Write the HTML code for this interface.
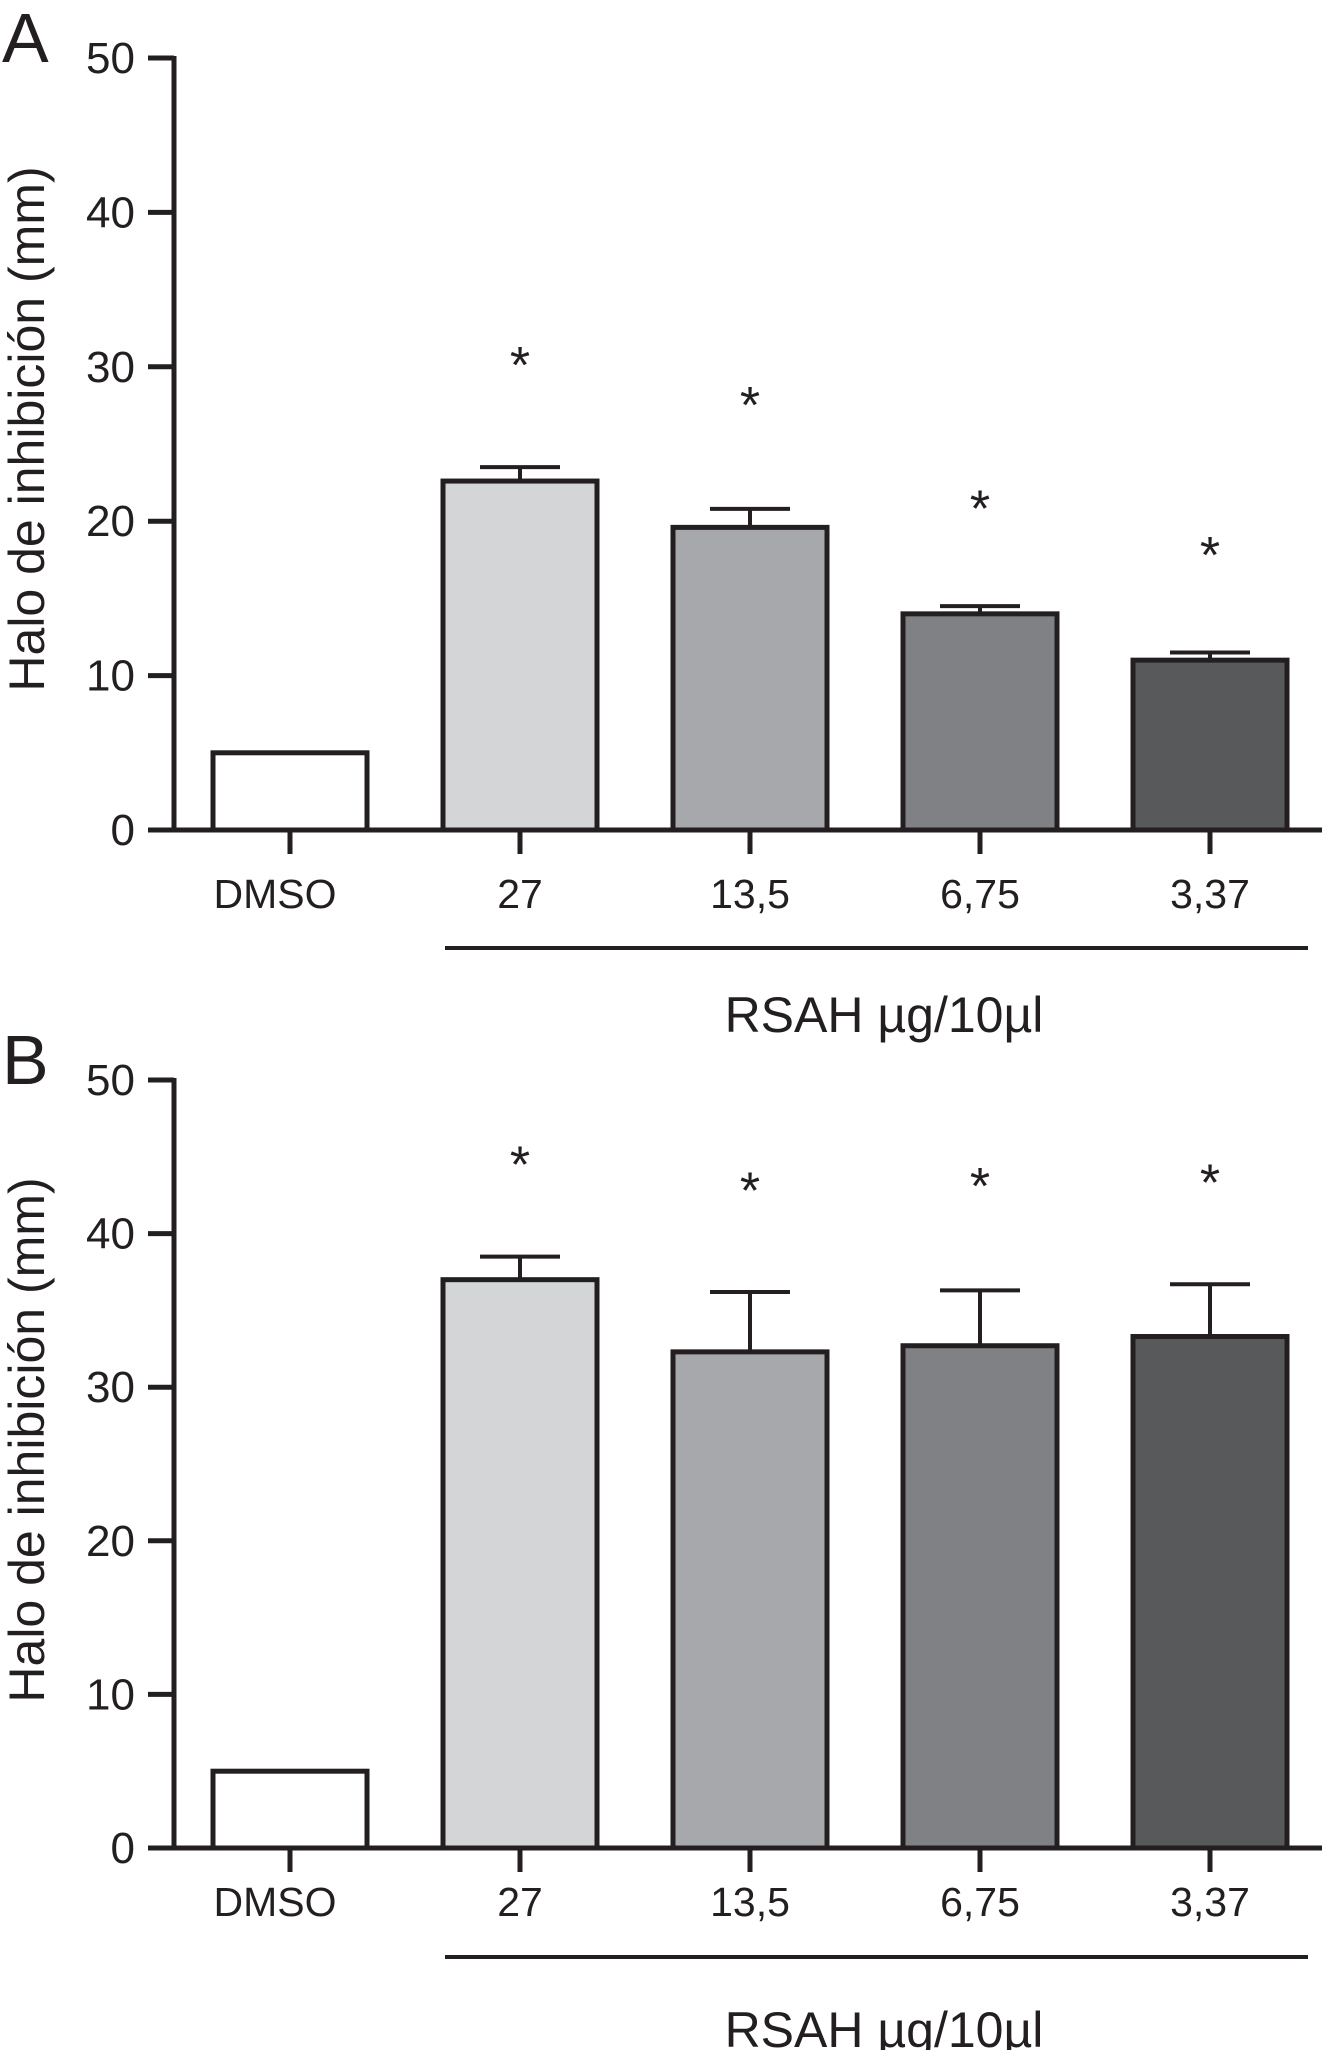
<!DOCTYPE html>
<html><head><meta charset="utf-8"><style>
html,body{margin:0;padding:0;background:#fff;}
svg{display:block;font-family:"Liberation Sans",sans-serif;}
</style></head><body>
<svg id="chart" width="1331" height="2050" viewBox="0 0 1331 2050" xmlns="http://www.w3.org/2000/svg"></svg>
<script>
const categories = ["DMSO","27","13,5","6,75","3,37"];
const valuesA = [5, 22.6, 19.6, 14, 11];
const errorsA = [0, 0.9, 1.2, 0.5, 0.5];
const starsA = [null, 30.7, 28.1, 21.4, 18.4];
const valuesB = [5, 37, 32.3, 32.7, 33.3];
const errorsB = [0, 1.5, 3.9, 3.6, 3.4];
const starsB = [null, 45.1, 43.4, 43.7, 43.9];
const yTicks = [0,10,20,30,40,50];
const fills = ["#ffffff","#d4d5d7","#a7a8ab","#808184","#58595b"];
const NS="http://www.w3.org/2000/svg";
const svg=document.getElementById('chart');
const INK="#231f20";
function mk(tag,attrs,parent){const e=document.createElementNS(NS,tag);for(const k in attrs)e.setAttribute(k,attrs[k]);(parent||svg).appendChild(e);return e;}
function panel(letter,values,errors,stars,y0,y50,lblY,lineY,rsahY,titleY){
  const g=mk('g',{});
  
  
  const yS=v=>y0-(y0-y50)*v/50;
  const xS=i=>290+230*i;
  const bw=154;
  const t=mk('text',{x:2,y:y50+4,'font-size':70,fill:INK},g);t.textContent=letter;
  
  
  const ya=mk('line',{x1:174,y1:y50-2,x2:174,y2:y0,stroke:INK,'stroke-width':5},g);
  
  
  yTicks.forEach(v=>{
    const tk=mk('line',{x1:148,x2:174,y1:yS(v),y2:yS(v),stroke:INK,'stroke-width':5},g);
    
    
    const tl=mk('text',{x:135,y:yS(v)+15,'font-size':44,'text-anchor':'end',fill:INK},g);tl.textContent=v;
    
    
  });
  const yt=mk('text',{x:0,y:0,'font-size':50,'text-anchor':'middle',fill:INK,transform:`translate(44,${titleY}) rotate(-90)`},g);
  yt.textContent="Halo de inhibición (mm)";
  
  
  values.forEach((v,i)=>{
    const cx=xS(i);
    if(errors[i]>0){
      const e=mk('path',{d:`M${cx} ${yS(v)} V${yS(v+errors[i])} M${cx-40} ${yS(v+errors[i])} H${cx+40}`,stroke:INK,'stroke-width':4,fill:'none'},g);
      
      
    }
    const r=mk('rect',{x:cx-bw/2,y:yS(v),width:bw,height:y0-yS(v),fill:fills[i],stroke:INK,'stroke-width':5},g);
    
    
    const tk=mk('line',{x1:cx,x2:cx,y1:y0,y2:y0+24,stroke:INK,'stroke-width':5},g);
    
    
    const xl=mk('text',{x:cx-(i===0?15:0),y:lblY,'font-size':41,'text-anchor':'middle',fill:INK},g);xl.textContent=categories[i];
    
    
    if(stars[i]!=null){
      const s=mk('text',{x:cx,y:yS(stars[i])+27,'font-size':52,'text-anchor':'middle',fill:INK},g);s.textContent="*";
      
      
    }
  });
  const xa=mk('line',{x1:174,x2:1322,y1:y0,y2:y0,stroke:INK,'stroke-width':5},g);
  
  
  const gl=mk('line',{x1:445,x2:1308,y1:lineY,y2:lineY,stroke:INK,'stroke-width':4},g);
  
  
  const rl=mk('text',{x:884,y:rsahY,'font-size':50,'text-anchor':'middle',fill:INK},g);rl.textContent="RSAH µg/10µl";
  
  
}
panel("A",valuesA,errorsA,starsA,830,58,908,948,1032,429);
panel("B",valuesB,errorsB,starsB,1848,1080,1916,1957,2047,1440);
</script>
</body></html>
